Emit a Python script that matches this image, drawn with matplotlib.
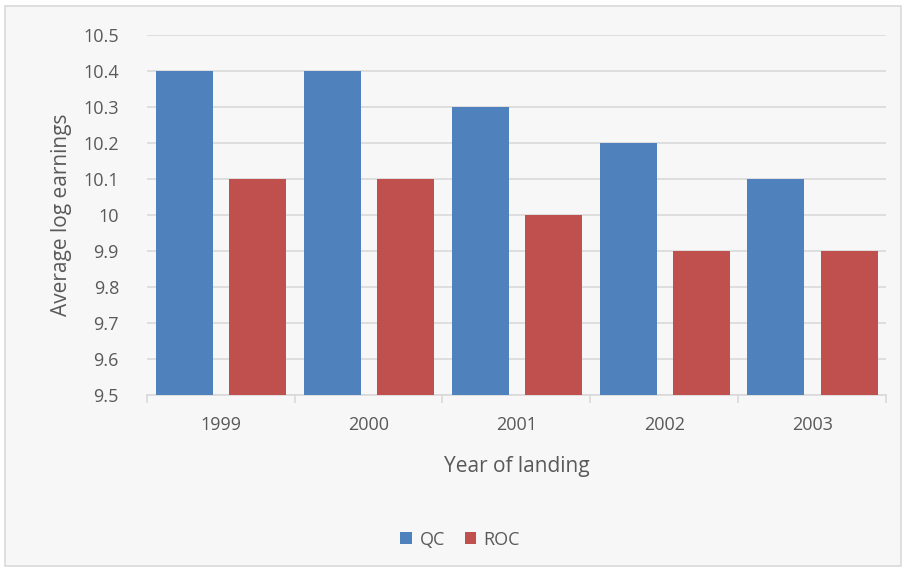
import numpy as np
import matplotlib.pyplot as plt
from matplotlib.patches import Rectangle

years = ["1999", "2000", "2001", "2002", "2003"]
qc = [10.4, 10.4, 10.3, 10.2, 10.1]
roc = [10.1, 10.1, 10.0, 9.9, 9.9]
yticks = [9.5, 9.6, 9.7, 9.8, 9.9, 10.0, 10.1, 10.2, 10.3, 10.4, 10.5]
ytick_labels = ["9.5", "9.6", "9.7", "9.8", "9.9", "10", "10.1", "10.2", "10.3", "10.4", "10.5"]

plt.rcParams["font.family"] = ["Open Sans", "DejaVu Sans"]
grey = "#595959"

fig = plt.figure(figsize=(9.06, 5.76), dpi=100, facecolor="white")
fig.patches.append(Rectangle((0.006, 0.018), 0.988, 0.972, transform=fig.transFigure,
                             facecolor="#f7f7f7", edgecolor="#d9d9d9", lw=1.2, zorder=-1))
ax = fig.add_axes([0.162, 0.314, 0.816, 0.625])
ax.set_facecolor("none")

x = np.arange(len(years))
w = 0.385
ax.bar(x - 0.245, np.array(qc) - 9.5, w, bottom=9.5, color="#4f81bd", label="QC", zorder=3)
ax.bar(x + 0.25, np.array(roc) - 9.5, w, bottom=9.5, color="#c0504d", label="ROC", zorder=3)

ax.set_xlim(-0.5, len(years) - 0.5)
ax.set_ylim(9.5, 10.5)
ax.set_yticks(yticks)
ax.set_yticklabels(ytick_labels)
ax.yaxis.grid(True, color="#d9d9d9", lw=1.2, zorder=0)
ax.tick_params(axis="y", length=0, labelsize=13, labelcolor=grey, pad=20)

ax.set_xticks(x)
ax.set_xticklabels(years)
ax.set_xticks(np.arange(-0.5, len(years)), minor=True)
ax.tick_params(axis="x", which="major", length=0, labelsize=13, labelcolor=grey, pad=15)
ax.tick_params(axis="x", which="minor", length=6, color="#d9d9d9", width=1.2)

for s in ["top", "right", "left"]:
    ax.spines[s].set_visible(False)
ax.spines["bottom"].set_color("#d9d9d9")
ax.spines["bottom"].set_linewidth(1.2)

ax.set_ylabel("Average log earnings", fontsize=15, color=grey, labelpad=8)
ax.set_xlabel("Year of landing", fontsize=15, color=grey, labelpad=16)

fig.legend(loc="center", bbox_to_anchor=(0.508, 0.063), ncol=2, frameon=False,
           fontsize=13, labelcolor=grey, handlelength=0.65, handleheight=0.65,
           handletextpad=0.4, columnspacing=1.1)

fig.savefig("out.png", dpi=100, facecolor="white")
